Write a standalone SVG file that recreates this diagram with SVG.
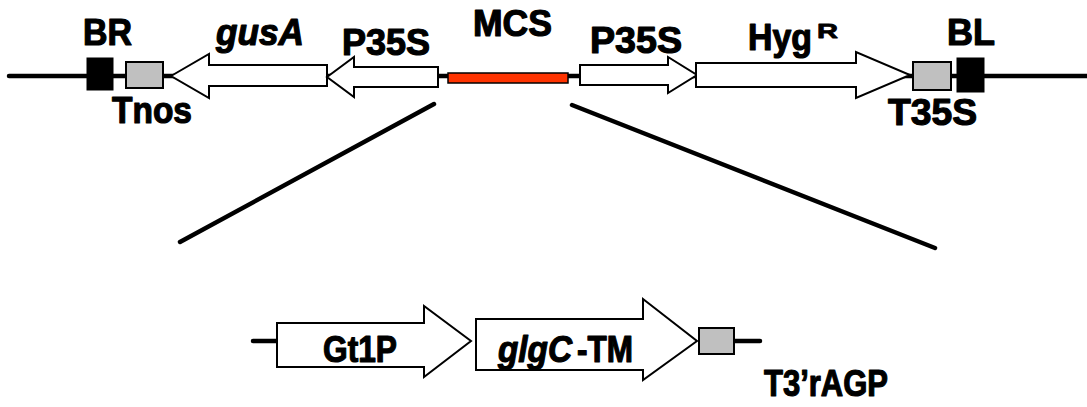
<svg xmlns="http://www.w3.org/2000/svg" width="1087" height="407" viewBox="0 0 1087 407">
<style>
.t{font-family:"Liberation Sans",Arial,sans-serif;font-weight:bold;font-size:37px;fill:#000;stroke:#000;stroke-width:1.2;stroke-linejoin:round}
.i{font-style:italic}
.ar{fill:#fff;stroke:#000;stroke-width:2;stroke-linejoin:miter}
.gr{fill:#c0c0c0;stroke:#000;stroke-width:2}
.bk{fill:#000;stroke:#000;stroke-width:1}
.ln{stroke:#000;stroke-width:4.5;stroke-linecap:round;fill:none}
</style>
<rect width="1087" height="407" fill="#fff"/>
<g id="connectors">
<line class="ln" x1="9" y1="76" x2="1087" y2="76"/>
<line class="ln" x1="434" y1="104" x2="180" y2="242"/>
<line class="ln" x1="572" y1="105" x2="935" y2="248"/>
<line class="ln" x1="253" y1="341" x2="277" y2="341"/>
<line class="ln" x1="734" y1="341" x2="760" y2="341"/>
</g>
<g id="BR"><rect class="bk" x="87" y="58" width="26" height="32"/><text class="t" x="83" y="45" textLength="49" lengthAdjust="spacingAndGlyphs">BR</text></g>
<g id="Tnos"><rect class="gr" x="126" y="62" width="37" height="26"/><text class="t" x="112" y="123" textLength="80" lengthAdjust="spacingAndGlyphs">Tnos</text></g>
<g id="gusA"><polygon class="ar" points="171,76 209,54 209,65 327,65 327,86 209,86 209,98"/><text class="t i" x="216" y="45" textLength="88" lengthAdjust="spacingAndGlyphs">gusA</text></g>
<g id="P35S-left"><polygon class="ar" points="327,77 354,57 354,67 438,67 438,87 354,87 354,97"/><text class="t" x="342" y="55" textLength="88" lengthAdjust="spacingAndGlyphs">P35S</text></g>
<g id="MCS"><rect x="448" y="73" width="120" height="10" fill="#ff3300" stroke="#000" stroke-width="1.5"/><text class="t" x="473" y="36" textLength="79" lengthAdjust="spacingAndGlyphs">MCS</text></g>
<g id="P35S-right"><polygon class="ar" points="580,65 668,65 668,57 697,75 668,93 668,85 580,85"/><text class="t" x="590" y="53" textLength="92" lengthAdjust="spacingAndGlyphs">P35S</text></g>
<g id="HygR"><polygon class="ar" points="696,63 856,63 856,52 910,75 856,98 856,87 696,87"/><text class="t" x="748" y="50" textLength="64" lengthAdjust="spacingAndGlyphs">Hyg</text><text class="t" x="817" y="38" style="font-size:20px;stroke-width:0.8" textLength="21" lengthAdjust="spacingAndGlyphs">R</text></g>
<g id="T35S"><rect class="gr" x="913" y="62" width="38" height="28"/><text class="t" x="888" y="125" textLength="89" lengthAdjust="spacingAndGlyphs">T35S</text></g>
<g id="BL"><rect class="bk" x="957" y="58" width="27" height="34"/><text class="t" x="947" y="45" textLength="48" lengthAdjust="spacingAndGlyphs">BL</text></g>
<g id="Gt1P"><polygon class="ar" points="277,323 424,323 424,306 471,341 424,377 424,367 277,367"/><text class="t" x="323" y="362" textLength="74" lengthAdjust="spacingAndGlyphs">Gt1P</text></g>
<g id="glgC-TM"><polygon class="ar" points="476,319 643,319 643,299 697,341 643,380 643,370 476,370"/><text class="t i" x="498" y="362" textLength="74" lengthAdjust="spacingAndGlyphs">glgC</text><text class="t" x="577" y="362" textLength="56" lengthAdjust="spacingAndGlyphs">-TM</text></g>
<g id="T3rAGP"><rect class="gr" x="699" y="328" width="35" height="26"/><text class="t" x="764" y="396" textLength="124" lengthAdjust="spacingAndGlyphs">T3’rAGP</text></g>
</svg>
